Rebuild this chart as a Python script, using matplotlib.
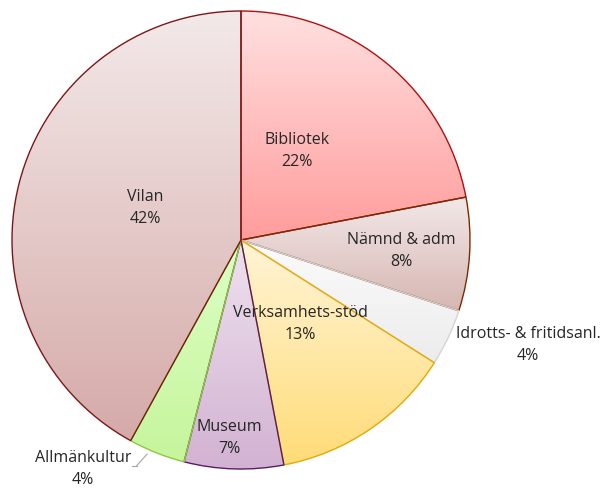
import matplotlib.pyplot as plt
import numpy as np
from matplotlib.colors import LinearSegmentedColormap

# data, clockwise from 12 o'clock
labels = ['Bibliotek', 'Nämnd & adm', 'Idrotts- & fritidsanl.', 'Verksamhets-stöd',
          'Museum', 'Allmänkultur', 'Vilan']
shares = [22, 8, 4, 13, 7, 4, 42]

# gradient colours (top, bottom) and outline per slice
top_cols = ['#ffe0e0', '#f2e8e8', '#fbfbfb', '#fff4d6', '#efe2ef', '#dcffc4', '#f3e9e9']
bot_cols = ['#ff9c9c', '#d6b6b2', '#ececec', '#ffdc78', '#d2b2d2', '#c6f59c', '#d5aaa8']
edge_cols = ['#b01010', '#7a2c00', '#d4d4d4', '#e8a800', '#5a1a68', '#8cc840', '#7a1818']

# label positions (axes data units, pie radius = 1)
label_xy = [(0.245, 0.39), (0.70, -0.05), (1.253, -0.46), (0.258, -0.365),
            (-0.05, -0.865), (-0.69, -1.0), (-0.42, 0.14)]

fig = plt.figure(figsize=(6.05, 4.9), dpi=100)
cx, cy, r = 241, 240, 229
ax = fig.add_axes([(cx - r) / 605, (490 - cy - r) / 490, 2 * r / 605, 2 * r / 490])

wedges, _ = ax.pie(shares, startangle=90, counterclock=False, radius=1,
                   wedgeprops=dict(linewidth=1.0))

for i, w in enumerate(wedges):
    ext = w.get_path().get_extents()
    cmap = LinearSegmentedColormap.from_list('g%d' % i, [bot_cols[i], top_cols[i]])
    grad = np.linspace(0, 1, 256).reshape(-1, 1)
    im = ax.imshow(grad, extent=[ext.x0, ext.x1, ext.y0, ext.y1], origin='lower',
                   cmap=cmap, aspect='auto', zorder=1, interpolation='bilinear')
    im.set_clip_path(w)
    w.set_facecolor('none')
    w.set_edgecolor(edge_cols[i])
    w.set_zorder(2)

for i, (lab, val) in enumerate(zip(labels, shares)):
    x, y = label_xy[i]
    ax.text(x, y, '%s\n%d%%' % (lab, val), ha='center', va='center',
            fontsize=11.5, color='#262626', linespacing=1.5,
            family=['Open Sans', 'DejaVu Sans'], zorder=5, clip_on=False)

# leader line for Allmänkultur
ax.plot([-0.455, -0.41], [-0.985, -0.935], color='#a6a6a6', lw=0.8, clip_on=False, zorder=3)
ax.plot([-0.475, -0.455], [-0.985, -0.985], color='#a6a6a6', lw=0.8, clip_on=False, zorder=3)

ax.set_xlim(-1, 1)
ax.set_ylim(-1, 1)
ax.set_aspect('equal')
ax.axis('off')

fig.savefig('out.png', dpi=100)
